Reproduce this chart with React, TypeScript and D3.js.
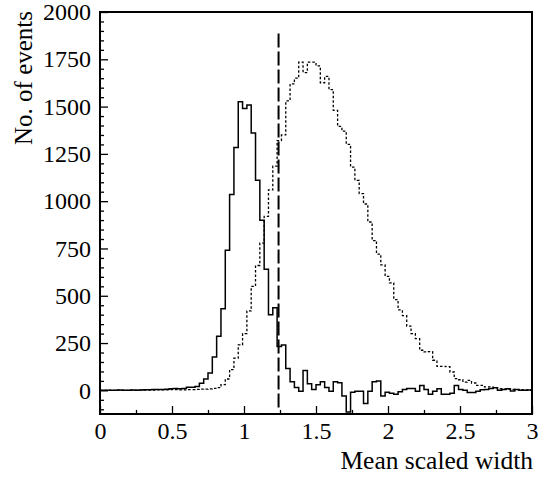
import { useEffect, useMemo, useRef } from "react";
import * as d3 from "d3";

const WIDTH = 539;
const HEIGHT = 477;
const MARGIN = { top: 12, right: 7, bottom: 63, left: 100 };
const FONT = "Liberation Serif, DejaVu Serif, serif";

// histogram setup
const BIN_WIDTH = 0.03;
const X_DOMAIN = [0, 3];
const Y_DOMAIN = [-125, 2000];

// cut position (dashed line)
const CUT_VALUE = 1.24;
const CUT_RANGE = [-90, 1890];

// solid histogram (100 bins of 0.03)
const solidCounts = [
  0, 1, 0, 1, 2, 0, 1, 2, 1, 2, 3, 3,
  4, 5, 5, 6, 9, 10, 8, 10, 16, 17,
  21, 37, 60, 92, 176, 286, 432, 741, 1035, 1284,
  1525, 1490, 1508, 1361, 1111, 899, 640, 400, 437, 232,
  240, 115, 45, 15, -5, 105, 35, 5, 30, 45,
  15, -5, 45, 40, -30, -115, -10, -5, -5, -70,
  -5, 45, 50, -30, -10, -15, -20, -8, 5, 10,
  10, -5, 26, 5, -21, -5, 8, -21, -21, -15,
  26, 5, 0, -11, -11, -5, 3, 5, 10, 14,
  0, 5, 8, -3, 5, 0, 0, 2,
];

// dotted histogram (100 bins of 0.03)
const dottedCounts = [
  0, 0, 1, 0, 1, 1, 0, 1, 1, 1, 2,
  2, 2, 3, 3, 3, 4, 4, 3, 3, 4, 4,
  5, 6, 7, 8, 10, 14, 30, 60, 110, 170,
  240, 300, 420, 550, 660, 778, 920, 1060, 1185, 1320,
  1350, 1530, 1620, 1650, 1735, 1680, 1735, 1735, 1715, 1626,
  1660, 1590, 1480, 1395, 1370, 1300, 1180, 1110, 1040, 985,
  890, 792, 720, 663, 603, 568, 480, 425, 395, 340,
  300, 273, 212, 203, 205, 159, 127, 127, 125, 97,
  62, 56, 44, 53, 39, 26, 26, 18, 18, 14,
  9, 7, 6, 5, 4, 4, 3, 2,
];

const xMajorTicks = [0, 0.5, 1, 1.5, 2, 2.5, 3];
const xMinorTicks = [0.25, 0.75, 1.25, 1.75, 2.25, 2.75];
const yMajorTicks = [0, 250, 500, 750, 1000, 1250, 1500, 1750, 2000];
const yMinorTicks = d3.range(-100, 2000, 50).filter((v) => v % 250 !== 0);

const xTitle = "Mean scaled width";
const yTitle = "No. of events";

const toPoints = (counts: number[]) => {
  const pts = counts.map((v, i) => [i * BIN_WIDTH, v] as [number, number]);
  pts.push([X_DOMAIN[1], counts[counts.length - 1]]);
  return pts;
};

const Histogram = () => {
  const axesRef = useRef<SVGGElement | null>(null);
  const boundsWidth = WIDTH - MARGIN.left - MARGIN.right;
  const boundsHeight = HEIGHT - MARGIN.top - MARGIN.bottom;

  const xScale = useMemo(
    () => d3.scaleLinear().domain(X_DOMAIN).range([MARGIN.left, MARGIN.left + boundsWidth]),
    [boundsWidth]
  );
  const yScale = useMemo(
    () => d3.scaleLinear().domain(Y_DOMAIN).range([MARGIN.top + boundsHeight, MARGIN.top]),
    [boundsHeight]
  );

  // axes drawn by d3, ticks pointing inward like the original
  useEffect(() => {
    const g = d3.select(axesRef.current);
    g.selectAll("*").remove();
    const bottom = MARGIN.top + boundsHeight;

    const parts = [
      g.append("g")
        .attr("transform", `translate(${MARGIN.left},0)`)
        .call(d3.axisLeft(yScale).tickValues(yMinorTicks).tickSize(-4).tickFormat(() => "")),
      g.append("g")
        .attr("transform", `translate(${MARGIN.left},0)`)
        .call(d3.axisLeft(yScale).tickValues(yMajorTicks).tickSize(-8).tickPadding(9).tickFormat(d3.format("d"))),
      g.append("g")
        .attr("transform", `translate(0,${bottom})`)
        .call(d3.axisBottom(xScale).tickValues(xMinorTicks).tickSize(-4).tickFormat(() => "")),
      g.append("g")
        .attr("transform", `translate(0,${bottom})`)
        .call(d3.axisBottom(xScale).tickValues(xMajorTicks).tickSize(-8).tickPadding(8).tickFormat((d) => String(d))),
    ];
    parts.forEach((p) => p.attr("font-family", FONT).attr("font-size", 24));

    g.selectAll(".domain").remove();
    g.selectAll("line").attr("stroke", "#000").attr("stroke-width", 1.3);
    g.selectAll("text")
      .attr("font-family", FONT)
      .attr("font-size", 24)
      .attr("fill", "#000");
  }, [xScale, yScale, boundsHeight]);

  const lineBuilder = d3
    .line<[number, number]>()
    .curve(d3.curveStepAfter)
    .x((d) => xScale(d[0]))
    .y((d) => yScale(d[1]));

  const solidPath = lineBuilder(toPoints(solidCounts));
  const dottedPath = lineBuilder(toPoints(dottedCounts));

  return (
    <svg
      width={WIDTH}
      height={HEIGHT}
      style={{ position: "absolute", left: 0, top: 0, background: "#fff" }}
    >
      <path d={dottedPath || ""} fill="none" stroke="#000" strokeWidth={1.3} strokeDasharray="2.5,2" />
      <path d={solidPath || ""} fill="none" stroke="#000" strokeWidth={1.5} />
      <line
        x1={xScale(CUT_VALUE)}
        x2={xScale(CUT_VALUE)}
        y1={yScale(CUT_RANGE[0])}
        y2={yScale(CUT_RANGE[1])}
        stroke="#000"
        strokeWidth={2}
        strokeDasharray="14,4"
      />
      <rect
        x={MARGIN.left}
        y={MARGIN.top}
        width={boundsWidth}
        height={boundsHeight}
        fill="none"
        stroke="#000"
        strokeWidth={2}
      />
      <g ref={axesRef} />
      <text
        x={MARGIN.left + boundsWidth + 1}
        y={469}
        textAnchor="end"
        fontFamily={FONT}
        fontSize={25.5}
      >
        {xTitle}
      </text>
      <text
        transform={`translate(32,${MARGIN.top - 1}) rotate(-90)`}
        textAnchor="end"
        fontFamily={FONT}
        fontSize={25}
      >
        {yTitle}
      </text>
    </svg>
  );
};

export default function App() {
  return <Histogram />;
}
